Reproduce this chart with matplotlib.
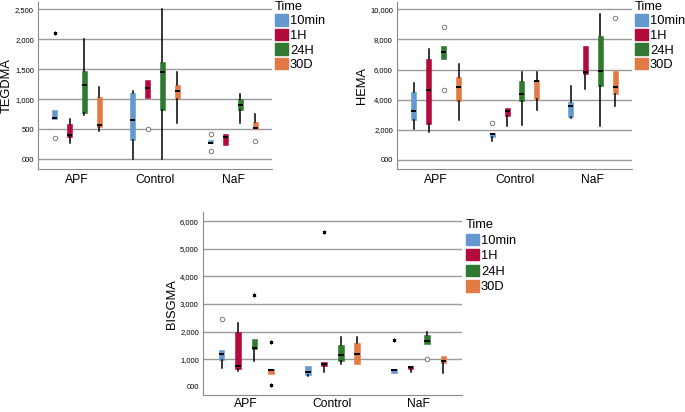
import matplotlib.pyplot as plt
from matplotlib.patches import Patch

plt.rcParams['font.family'] = ['Liberation Sans', 'DejaVu Sans']

groups = ['APF', 'Control', 'NaF']
times = ['10min', '1H', '24H', '30D']
colors = ['#6399cf', '#b30c3c', '#2f7a30', '#e27a45']

# order: APF(10min,1H,24H,30D), Control(...), NaF(...)
teg_q1 = [672, 367, 767, 533, 322, 1017, 822, 1000, 267, 239, 822, 500]
teg_med = [683, 406, 1239, 567, 656, 1183, 1461, 1144, 278, 367, 900, 517]
teg_q3 = [822, 589, 1472, 1033, 1100, 1322, 1622, 1239, 322, 422, 1000, 617]
teg_lo = [672, 278, 739, 472, 0, 1017, 0, 611, 267, 230, 611, 500]
teg_hi = [822, 678, 2000, 1200, 1139, 1322, 2500, 1461, 322, 422, 1083, 756]
teg_out = [[361], [], [], [], [], [500], [], [], [417, 144], [], [], [311]]
teg_ext = [[2100], [], [], [], [], [], [], [], [], [], [], []]

hema_q1 = [2628, 2407, 6690, 3930, 1501, 2937, 3886, 4041, 2848, 5719, 4924, 4394]
hema_med = [3224, 4659, 7154, 4813, 1700, 3268, 4394, 5255, 3555, 5807, 5873, 4836]
hema_q3 = [4504, 6690, 7573, 5476, 1789, 3422, 5211, 5321, 3864, 7573, 8236, 5873]
hema_lo = [2053, 1855, 6690, 2672, 1236, 2274, 2340, 3334, 2782, 4725, 2230, 3555]
hema_hi = [5100, 7353, 7573, 6359, 1789, 3480, 5807, 5829, 4924, 7573, 9693, 5873]
hema_out = [[], [], [8788, 4615], [], [2451], [], [], [], [], [], [], [9406]]
hema_ext = [[] for _ in range(12)]

bis_q1 = [964, 643, 1357, 464, 429, 762, 929, 821, 512, 631, 1560, 869]
bis_med = [1190, 750, 1405, 607, 524, 810, 1143, 1202, 607, 726, 1643, 929]
bis_q3 = [1345, 2000, 1714, 643, 750, 905, 1524, 1583, 643, 750, 1881, 1119]
bis_lo = [690, 583, 940, 464, 393, 548, 845, 821, 512, 548, 1560, 488]
bis_hi = [1345, 2310, 1714, 643, 750, 905, 1798, 1821, 643, 750, 2000, 1119]
bis_out = [[2452], [], [], [], [], [], [], [], [], [], [1024], []]
bis_ext = [[], [], [3321], [1619, 71], [], [5595], [], [], [1690], [], [], []]

offsets = [-0.285, -0.095, 0.095, 0.285]
fig = plt.figure(figsize=(6.85, 4.12), dpi=100)


def fmt(v, pos):
    return '000' if v == 0 else f'{v:,.0f}'


def panel(rect, q1, med, q3, lo, hi, out, ext, ylabel, yticks, ylim, xpad=4):
    ax = fig.add_axes(rect)
    for i in range(12):
        g, t = divmod(i, 4)
        x = g + offsets[t]
        st = dict(q1=q1[i], med=med[i], q3=q3[i], whislo=lo[i], whishi=hi[i],
                  fliers=out[i])
        ax.bxp([st], positions=[x], widths=0.065, patch_artist=True, showcaps=False,
               boxprops=dict(facecolor=colors[t], edgecolor=colors[t], linewidth=0.4),
               medianprops=dict(color='black', linewidth=1.4),
               whiskerprops=dict(color='black', linewidth=1.1),
               flierprops=dict(marker='o', markersize=3.2, markerfacecolor='white',
                               markeredgecolor='#777777', markeredgewidth=0.7),
               zorder=3)
        if ext[i]:
            ax.scatter([x] * len(ext[i]), ext[i], marker=(6, 2, 0), s=5,
                       color='black', linewidths=0.6, zorder=4)
    ax.set_xlim(-0.5, 2.5)
    ax.set_ylim(*ylim)
    ax.set_yticks(yticks)
    ax.yaxis.set_major_formatter(plt.FuncFormatter(fmt))
    ax.set_xticks(range(3))
    ax.set_xticklabels(groups, fontsize=8.7)
    ax.tick_params(axis='y', length=0, labelsize=5.5, pad=3)
    ax.tick_params(axis='x', length=0, pad=xpad)
    ax.set_ylabel(ylabel, fontsize=9.3, labelpad=1.5)
    ax.yaxis.grid(True, color='#9a9a9a', linewidth=1.0)
    ax.set_axisbelow(True)
    for s in ['top', 'right']:
        ax.spines[s].set_visible(False)
    for s in ['left', 'bottom']:
        ax.spines[s].set_color('#8a8a8a')
    return ax


panel([0.0555, 0.590, 0.3416, 0.405], teg_q1, teg_med, teg_q3, teg_lo, teg_hi,
      teg_out, teg_ext, 'TEGDMA', [0, 500, 1000, 1500, 2000, 2500], (-162, 2622))
panel([0.5796, 0.5905, 0.343, 0.405], hema_q1, hema_med, hema_q3, hema_lo, hema_hi,
      hema_out, hema_ext, 'HEMA', [0, 2000, 4000, 6000, 8000, 10000], (-580, 10487))
bax = panel([0.2964, 0.041, 0.378, 0.444], bis_q1, bis_med, bis_q3, bis_lo, bis_hi,
            bis_out, bis_ext, 'BISGMA', [0, 1000, 2000, 3000, 4000, 5000, 6000],
            (-299, 6322), xpad=2)
bax.yaxis.get_gridlines()[0].set_visible(False)

handles = [Patch(facecolor=c, edgecolor=c, label=t) for c, t in zip(colors, times)]
for x, y, sp in [(275 / 685, 0.998, 0.12), (635 / 685, 0.998, 0.12),
                 (466 / 685, 1 - 219 / 412, 0.2)]:
    fig.legend(handles=handles, title='Time', loc='upper left', bbox_to_anchor=(x, y),
               frameon=False, fontsize=9.3, title_fontsize=9.3, alignment='left',
               handlelength=1.0, handleheight=0.95, handletextpad=0.15,
               labelspacing=sp, borderpad=0, borderaxespad=0)

fig.savefig('out.png', dpi=100)
